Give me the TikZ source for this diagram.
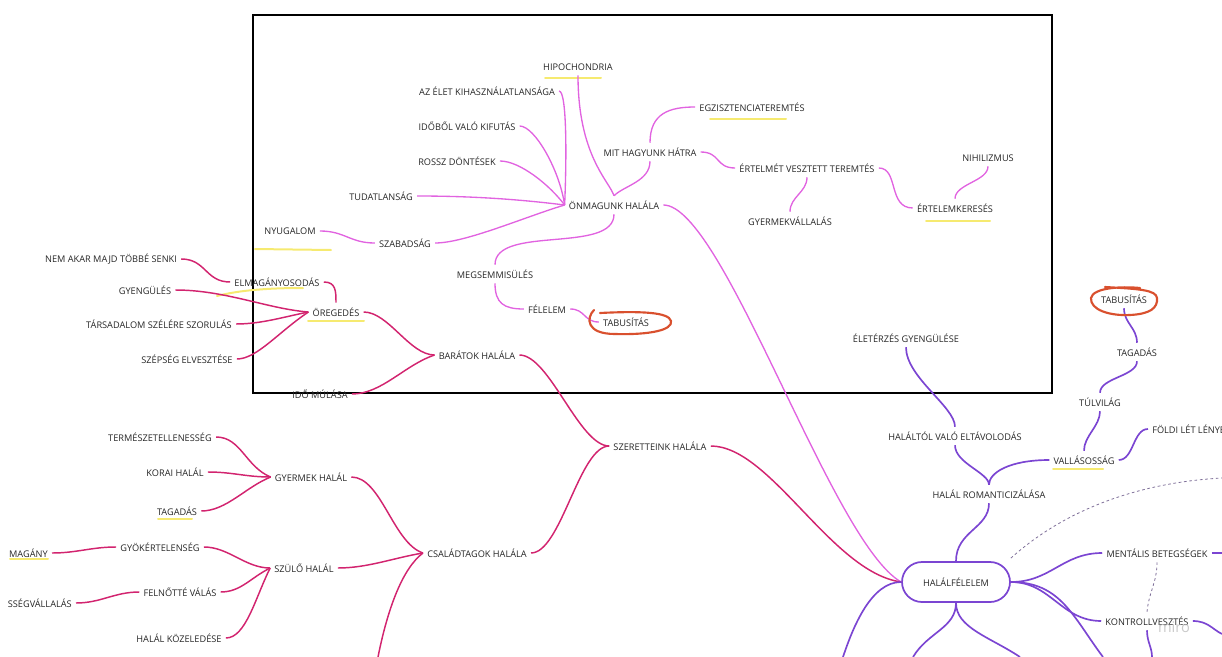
\documentclass[tikz,border=0pt]{standalone}
\usepackage{fontspec}
\setmainfont{Open Sans}
\usetikzlibrary{calc}
\definecolor{owncol}{HTML}{E163E0}
\definecolor{kincol}{HTML}{D2246F}
\definecolor{fearcol}{HTML}{7B45D2}
\definecolor{hlyel}{HTML}{F6EA70}
\definecolor{loopred}{HTML}{D9502E}
\definecolor{txtgray}{HTML}{262626}
\tikzset{every node/.style={font=\fontsize{6.9}{8}\selectfont, text=txtgray, inner xsep=3pt, inner ysep=3.5pt},
  own/.style={draw=owncol, line width=1pt},
  kin/.style={draw=kincol, line width=1.1pt},
  fear/.style={draw=fearcol, line width=1.25pt},
  hl/.style={draw=hlyel, line width=1.5pt, line cap=round},
  redloop/.style={draw=loopred, line width=1.6pt, line cap=round},
  dashlink/.style={draw=gray!70!fearcol, dash pattern=on 2pt off 2pt, line width=0.6pt},
  halalbox/.style={draw=fearcol, line width=1.3pt, rounded corners=15pt, minimum width=81pt, minimum height=30pt}}

\begin{document}
\begin{tikzpicture}[x=0.75pt, y=-0.75pt]
       \useasboundingbox (0,0) rectangle (1222,657);
       \clip (0,0) rectangle (1222,657);
       \draw[black, line width=0.9pt] (253,15) rectangle (1052,393);
       % highlights
       \draw[hl] (545,78) -- (601,78);
       \draw[hl] (710,119) -- (786,119);
       \draw[hl] (926,221) -- (990,221);
       \draw[hl] (255,249) -- (331,250);
       \draw[hl] (217,296) .. controls (240,290) and (270,288) .. (303,288);
       \draw[hl] (308,321) -- (364,321);
       \draw[hl] (158,519) -- (192,519);
       \draw[hl] (10,559) -- (48,559);
       \draw[hl] (1053,469) -- (1103,469);
       % own death
       \node (hypo) at (578,67) {HIPOCHONDRIA};
       \node (elet) at (487,91) {AZ ÉLET KIHASZNÁLATLANSÁGA};
       \node (ido) at (467,126) {IDŐBŐL VALÓ KIFUTÁS};
       \node (rossz) at (457,161) {ROSSZ DÖNTÉSEK};
       \node (tudat) at (381,196) {TUDATLANSÁG};
       \node (onmag) at (614,205) {ÖNMAGUNK HALÁLA};
       \node (nyug) at (290,231) {NYUGALOM};
       \node (szab) at (405,243) {SZABADSÁG};
       \node (mit) at (650,152) {MIT HAGYUNK HÁTRA};
       \node (egz) at (752,107) {EGZISZTENCIATEREMTÉS};
       \node (ertv) at (807,168) {ÉRTELMÉT VESZTETT TEREMTÉS};
       \node (gyv) at (790,221) {GYERMEKVÁLLALÁS};
       \node (nihil) at (988,158) {NIHILIZMUS};
       \node (ertk) at (955,208) {ÉRTELEMKERESÉS};
       \node (megs) at (495,274) {MEGSEMMISÜLÉS};
       \node (fel) at (547,309) {FÉLELEM};
       \node (tabu1) at (626,322) {TABUSÍTÁS};
       % loved ones
       \node (barat) at (477,355) {BARÁTOK HALÁLA};
       \node (senki) at (111,259) {NEM AKAR MAJD TÖBBÉ SENKI};
       \node (elmag) at (277,282) {ELMAGÁNYOSODÁS};
       \node (gyeng) at (145,290) {GYENGÜLÉS};
       \node (oreg) at (336,312) {ÖREGEDÉS};
       \node (tars) at (159,324) {TÁRSADALOM SZÉLÉRE SZORULÁS};
       \node (szep) at (187,359) {SZÉPSÉG ELVESZTÉSE};
       \node (idom) at (320,394) {IDŐ MÚLÁSA};
       \node (szer) at (660,446) {SZERETTEINK HALÁLA};
       \node (csal) at (477,553) {CSALÁDTAGOK HALÁLA};
       \node (term) at (160,437) {TERMÉSZETELLENESSÉG};
       \node (korai) at (175,472) {KORAI HALÁL};
       \node (tagad1) at (177,511) {TAGADÁS};
       \node (gyerm) at (311,477) {GYERMEK HALÁL};
       \node (gyok) at (160,547) {GYÖKÉRTELENSÉG};
       \node[anchor=east] (magany) at (52,553) {MAGÁNY};
       \node (szulo) at (304,568) {SZÜLŐ HALÁL};
       \node (felno) at (180,592) {FELNŐTTÉ VÁLÁS};
       \node[anchor=east] (vall) at (76,603) {SSÉGVÁLLALÁS};
       \node (kozel) at (179,638) {HALÁL KÖZELEDÉSE};
       % fear of death
       \node[halalbox] (halal) at (956,582) {HALÁLFÉLELEM};
       \node (roman) at (989,494) {HALÁL ROMANTICIZÁLÁSA};
       \node (eltav) at (955,436) {HALÁLTÓL VALÓ ELTÁVOLODÁS};
       \node (eleter) at (906,338) {ÉLETÉRZÉS GYENGÜLÉSE};
       \node (vallas) at (1084,460) {VALLÁSOSSÁG};
       \node (tulv) at (1100,402) {TÚLVILÁG};
       \node (tagad2) at (1137,352) {TAGADÁS};
       \node (tabu2) at (1124,299) {TABUSÍTÁS};
       \node[anchor=west] (foldi) at (1148,429) {FÖLDI LÉT LÉNYE};
       \node (ment) at (1157,553) {MENTÁLIS BETEGSÉGEK};
       \node (kontr) at (1147,621) {KONTROLLVESZTÉS};
       \node[text=gray!60, opacity=0.7, font=\fontsize{11}{12}\selectfont] (miro) at (1174,627) {miro};
       \coordinate (cA) at (1222,553);
       \coordinate (cB) at (1222,634);
       \coordinate (cC) at (1152,657);
       \coordinate (cD) at (1103,657);
       \coordinate (cE) at (1020,657);
       \coordinate (cF) at (913,657);
       \coordinate (cG) at (843,657);
       \coordinate (cH) at (378,657);
       \coordinate (dA) at (1222,478);
       % own links
       \draw[own] (elet.east) .. controls +(8,0) and +(2,-45) .. (onmag.west);
       \draw[own] (ido.east) .. controls +(15,0) and +(-5,-35) .. (onmag.west);
       \draw[own] (rossz.east) .. controls +(20,0) and +(-15,-20) .. (onmag.west);
       \draw[own] (tudat.east) .. controls +(60,0) and +(-40,-5) .. (onmag.west);
       \draw[own] (szab.east) .. controls +(30,0) and +(-40,12) .. (onmag.west);
       \draw[own] (nyug.east) .. controls +(25,0) and +(-25,0) .. (szab.west);
       \draw[own] (hypo.south) .. controls +(0,80) and +(-5,-15) .. (onmag.north);
       \draw[own] (mit.south) .. controls +(0,20) and +(10,-10) .. (onmag.north);
       \draw[own] (mit.north) .. controls +(0,-30) and +(-25,0) .. (egz.west);
       \draw[own] (mit.east) .. controls +(20,0) and +(-20,0) .. (ertv.west);
       \draw[own] (ertv.south) .. controls +(0,15) and +(0,-15) .. (gyv.north);
       \draw[own] (ertv.east) .. controls +(20,0) and +(-25,0) .. (ertk.west);
       \draw[own] (ertk.north) .. controls +(0,-15) and +(0,15) .. (nihil.south);
       \draw[own] (onmag.south) .. controls +(0,40) and +(0,-40) .. (megs.north);
       \draw[own] (megs.south) .. controls +(0,20) and +(-20,0) .. (fel.west);
       \draw[own] (fel.east) .. controls +(15,0) and +(-15,0) .. (tabu1.west);
       \draw[own] (onmag.east) .. controls +(60,0) and +(-70,-40) .. (halal.west);
       % loved ones links
       \draw[kin] (senki.east) .. controls +(25,0) and +(-25,0) .. (elmag.west);
       \draw[kin] (elmag.east) .. controls +(12,0) and +(0,-12) .. (oreg.north);
       \draw[kin] (gyeng.east) .. controls +(50,0) and +(-40,-3) .. (oreg.west);
       \draw[kin] (tars.east) .. controls +(25,0) and +(-25,5) .. (oreg.west);
       \draw[kin] (szep.east) .. controls +(20,0) and +(-30,20) .. (oreg.west);
       \draw[kin] (oreg.east) .. controls +(25,0) and +(-25,0) .. (barat.west);
       \draw[kin] (idom.east) .. controls +(30,0) and +(-30,10) .. (barat.west);
       \draw[kin] (barat.east) .. controls +(30,0) and +(-30,0) .. (szer.west);
       \draw[kin] (csal.east) .. controls +(30,0) and +(-30,0) .. (szer.west);
       \draw[kin] (gyerm.east) .. controls +(30,0) and +(-30,-10) .. (csal.west);
       \draw[kin] (szulo.east) .. controls +(30,0) and +(-30,5) .. (csal.west);
       \draw[kin] (cH) .. controls +(10,-50) and +(-20,15) .. (csal.west);
       \draw[kin] (term.east) .. controls +(25,0) and +(-25,-10) .. (gyerm.west);
       \draw[kin] (korai.east) .. controls +(25,0) and +(-25,0) .. (gyerm.west);
       \draw[kin] (tagad1.east) .. controls +(25,0) and +(-25,10) .. (gyerm.west);
       \draw[kin] (gyok.east) .. controls +(25,0) and +(-25,0) .. (szulo.west);
       \draw[kin] (felno.east) .. controls +(20,0) and +(-20,10) .. (szulo.west);
       \draw[kin] (kozel.east) .. controls +(20,0) and +(-15,30) .. (szulo.west);
       \draw[kin] (magany.east) .. controls +(25,0) and +(-25,0) .. (gyok.west);
       \draw[kin] (vall.east) .. controls +(25,0) and +(-25,0) .. (felno.west);
       \draw[kin] (szer.east) .. controls +(60,0) and +(-70,-10) .. (halal.west);
       % fear links
       \draw[fear] (halal.north) .. controls +(0,-30) and +(0,25) .. (roman.south);
       \draw[fear] (roman.north) .. controls +(0,-12) and +(0,18) .. (eltav.south);
       \draw[fear] (roman.north) .. controls +(0,-12) and +(-40,0) .. (vallas.west);
       \draw[fear] (eltav.north) .. controls +(0,-20) and +(0,30) .. (eleter.south);
       \draw[fear] (vallas.north) .. controls +(0,-15) and +(0,15) .. (tulv.south);
       \draw[fear] (tulv.north) .. controls +(0,-15) and +(0,15) .. (tagad2.south);
       \draw[fear] (tagad2.north) .. controls +(0,-15) and +(0,15) .. (tabu2.south);
       \draw[fear] (vallas.east) .. controls +(15,0) and +(-15,0) .. (foldi.west);
       \draw[fear] (halal.east) .. controls +(40,0) and +(-40,0) .. (ment.west);
       \draw[fear] (halal.east) .. controls +(40,0) and +(-40,0) .. (kontr.west);
       \draw[fear] (halal.east) .. controls +(50,0) and +(-30,-40) .. (cD);
       \draw[fear] (halal.south) .. controls +(0,25) and +(15,-25) .. (cF);
       \draw[fear] (halal.south) .. controls +(0,25) and +(-30,-20) .. (cE);
       \draw[fear] (halal.west) .. controls +(-30,0) and +(10,-30) .. (cG);
       \draw[fear] (ment.east) -- (cA);
       \draw[fear] (kontr.east) .. controls +(15,0) and +(-10,-5) .. (cB);
       \draw[fear] (kontr.south) .. controls +(0,12) and +(0,-10) .. (cC);
       \draw[dashlink] ($(halal.north east)+(0,-3)$) .. controls +(50,-45) and +(-90,5) .. (dA);
       \draw[dashlink] (ment.south) .. controls +(0,20) and +(2,-20) .. (kontr.north);
       % red loops
       \draw[redloop] (594,310) .. controls (586,318) and (586,334) .. (615,334)
         .. controls (650,335) and (673,330) .. (671,321)
         .. controls (669,312) and (640,311) .. (600,313);
       \draw[redloop] (1140,288) .. controls (1120,286) and (1093,288) .. (1091,298)
         .. controls (1090,310) and (1110,316) .. (1130,315)
         .. controls (1150,314) and (1158,308) .. (1157,298)
         .. controls (1156,290) and (1140,289) .. (1105,287);
      \end{tikzpicture}
\end{document}
